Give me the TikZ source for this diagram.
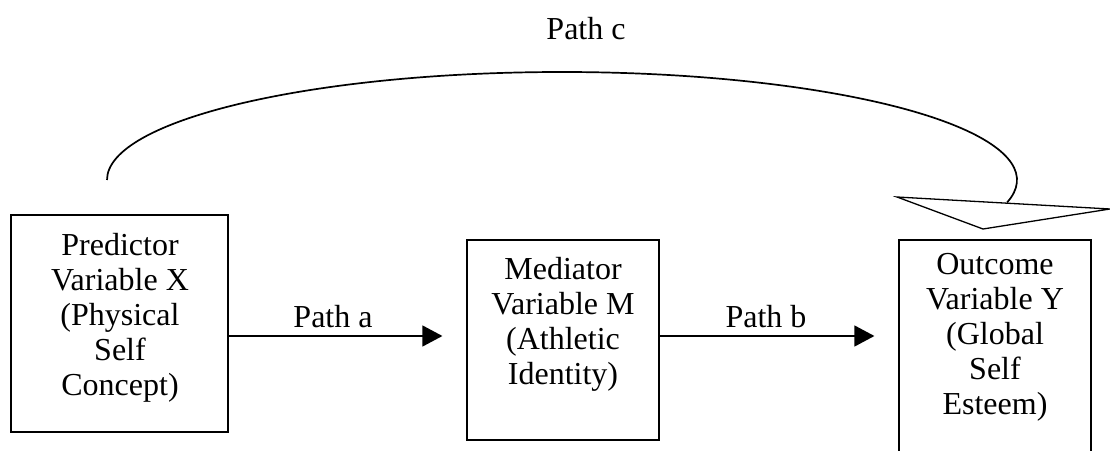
\documentclass[tikz,border=0pt]{standalone}
\usepackage{fontspec}
\setmainfont{Liberation Serif}
\usetikzlibrary{arrows.meta}
\tikzset{
  boxshape/.style={draw=black, line width=1.2pt, rectangle, inner sep=0pt},
  boxtext/.style={align=center, inner sep=0pt, font=\fontsize{32}{35}\selectfont},
  pathlabel/.style={inner sep=0pt, anchor=base, font=\fontsize{32}{35}\selectfont},
  conn/.style={line width=1.3pt, -{Triangle[length=20pt,width=21pt]}, shorten >=24pt},
  curve/.style={line width=1.7pt},
  head/.style={draw=black, line width=1.3pt, fill=white, line join=miter}
}
\begin{document}
\begin{tikzpicture}[x=1pt,y=1pt]
\useasboundingbox (0,0) rectangle (1110,450);
\clip (0,0) rectangle (1110,450);
% boxes
\node[boxshape, minimum width=217pt, minimum height=217pt] (lbox) at (119.5,126.5) {};
\node[boxshape, minimum width=192pt, minimum height=200pt] (mbox) at (563,110) {};
\node[boxshape, minimum width=192pt, minimum height=240pt] (rbox) at (995,90) {};
% texts
\node[boxtext] (ltext) at (120,132.2) {Predictor\\Variable X\\(Physical\\Self\\Concept)};
\node[boxtext] (mtext) at (563,125.7) {Mediator\\Variable M\\(Athletic\\Identity)};
\node[boxtext] (rtext) at (995,112.2) {Outcome\\Variable Y\\(Global\\Self\\Esteem)};
% connectors
\coordinate (arow) at (0,114);
\draw[conn] (lbox.east |- arow) -- (mbox.west |- arow);
\draw[conn] (mbox.east |- arow) -- (rbox.west |- arow);
\node[pathlabel] (la) at (333,123) {Path a};
\node[pathlabel] (lb) at (766,123) {Path b};
\node[pathlabel] (lc) at (586,410) {Path c};
% curved path c
\coordinate (cstart) at (107,270);
\draw[curve] (cstart) arc[start angle=180, end angle=-12, x radius=455pt, y radius=108pt] coordinate (cend);
\coordinate (ta) at (897,253);
\coordinate (tb) at (1110,241);
\coordinate (tc) at (983,221);
\draw[head] (ta) -- (tb) -- (tc) -- cycle;
\end{tikzpicture}
\end{document}
